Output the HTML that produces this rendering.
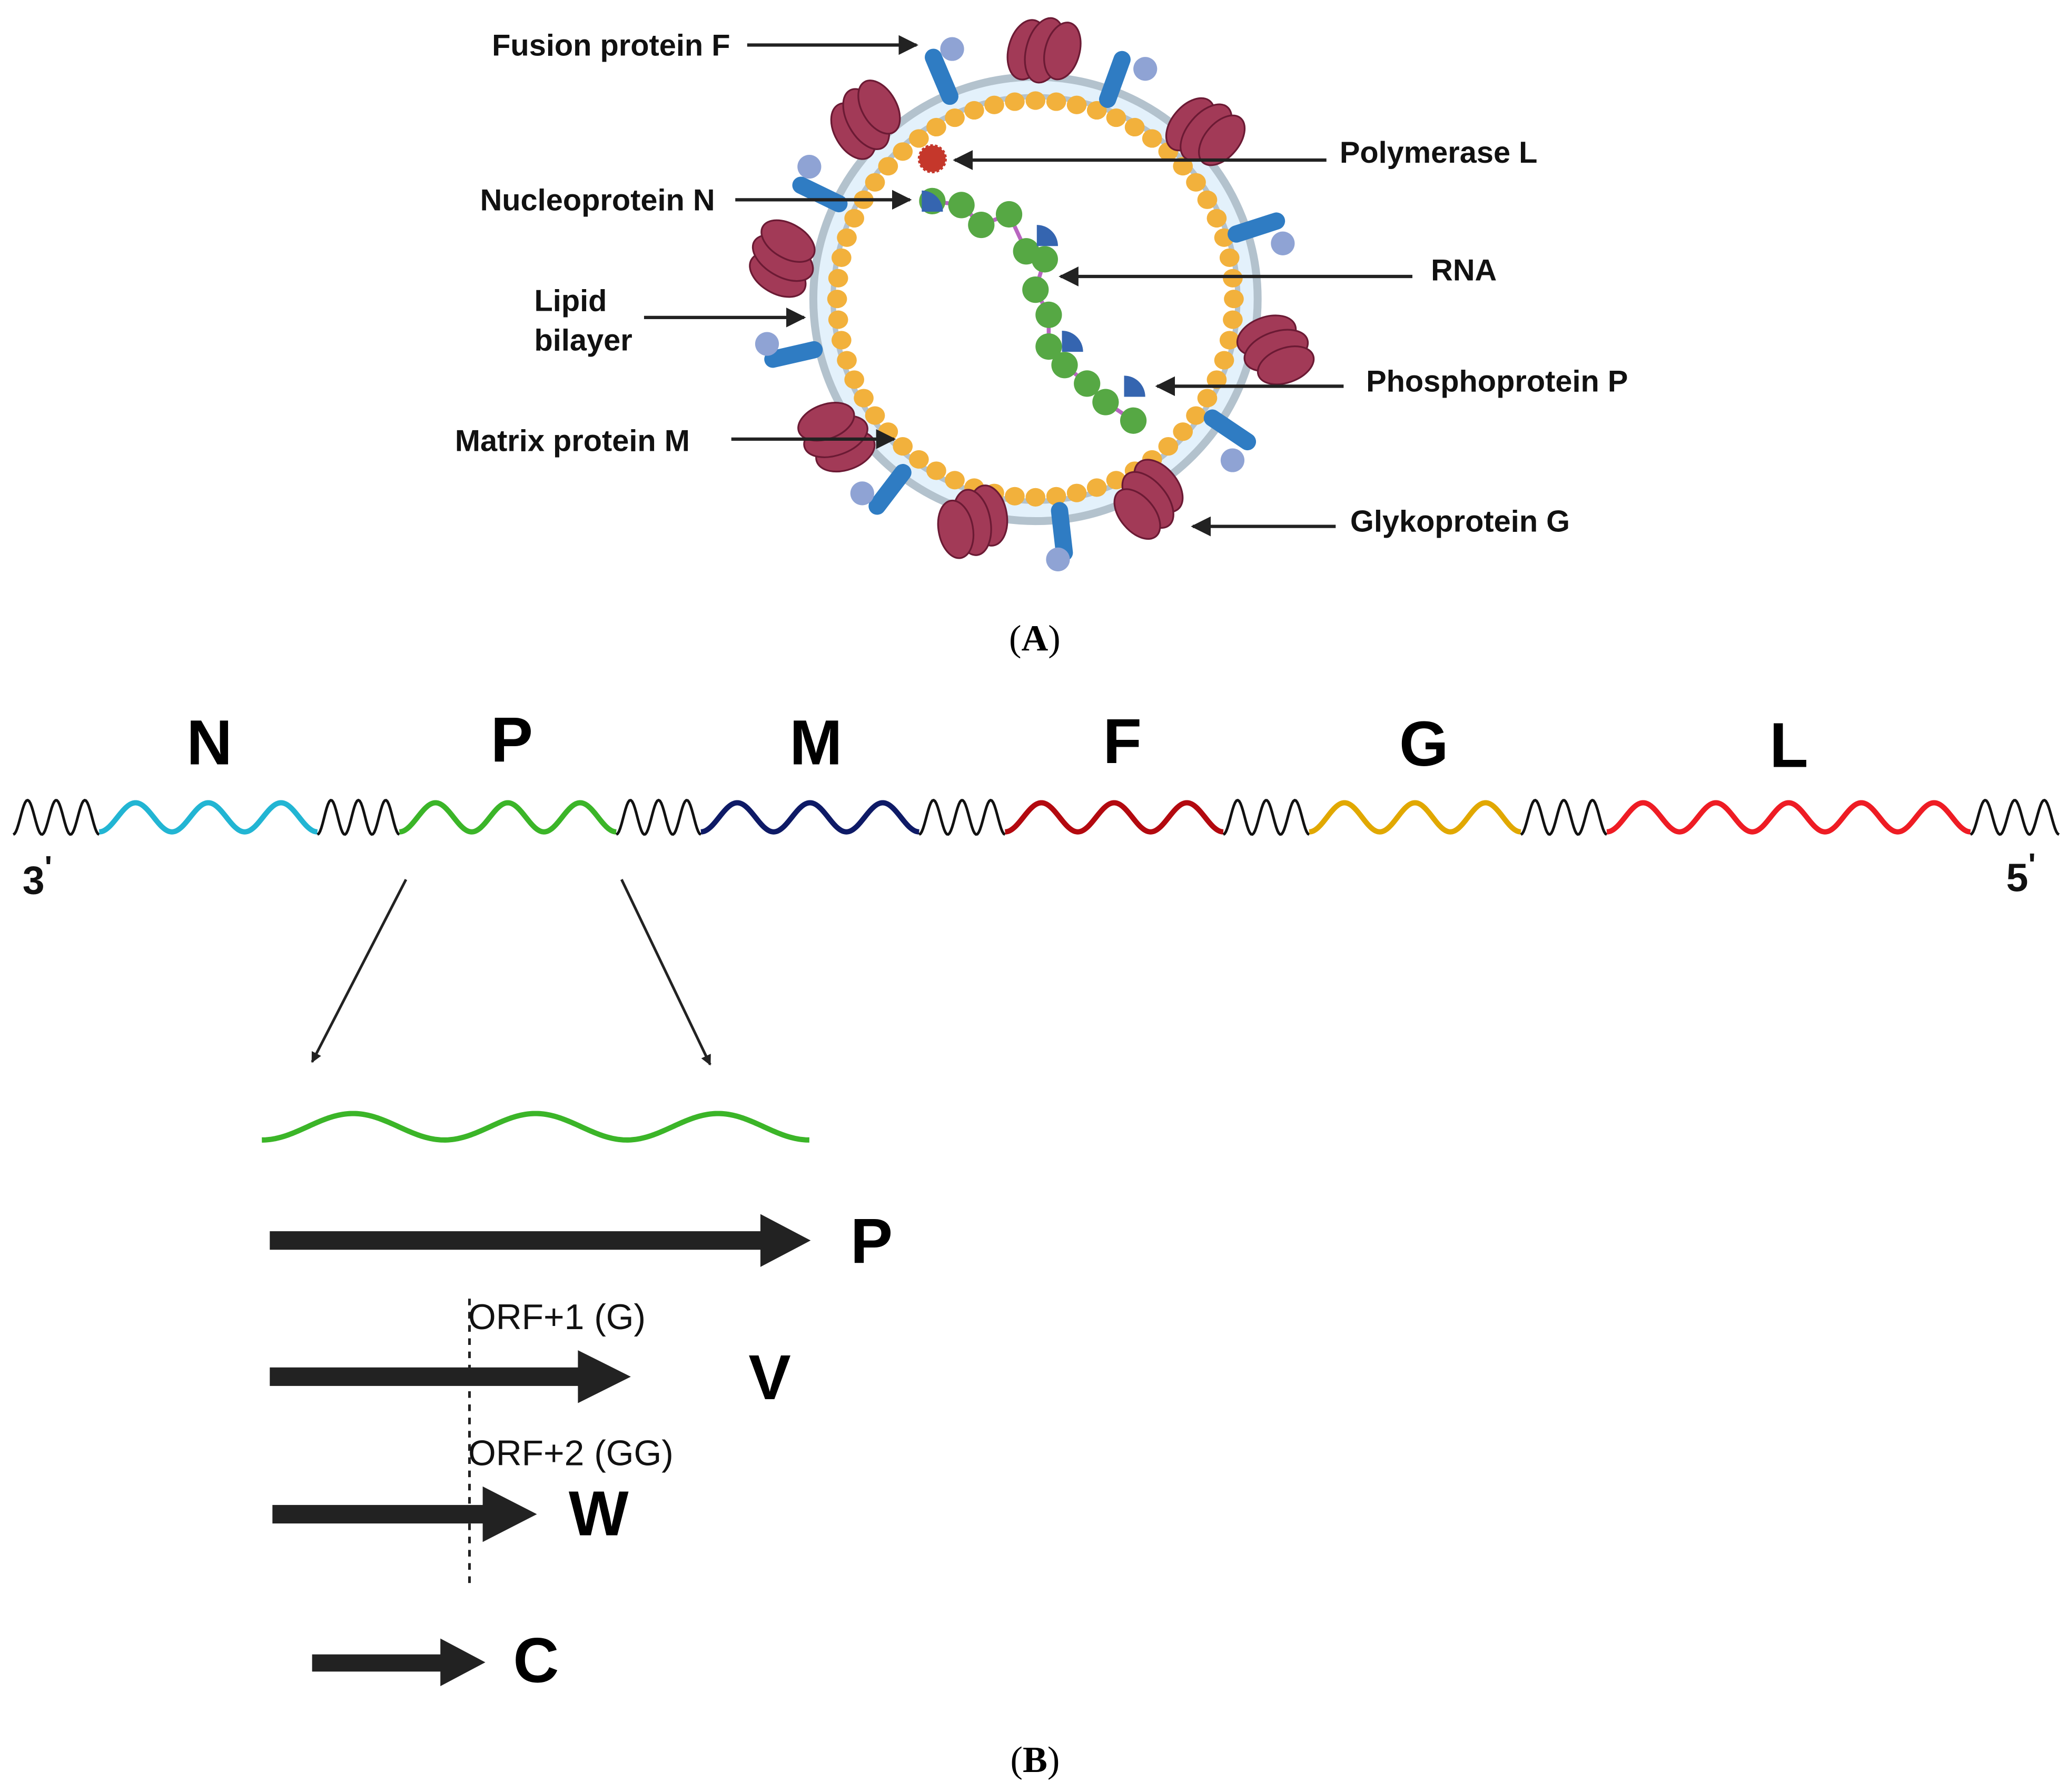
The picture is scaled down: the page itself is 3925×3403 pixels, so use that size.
<!DOCTYPE html>
<html><head><meta charset="utf-8">
<style>
html,body{margin:0;padding:0;background:#fff;}
svg{display:block;}
.lb{font-family:"Liberation Sans",Arial,sans-serif;font-weight:bold;font-size:23px;fill:#111;}
.big{font-family:"Liberation Sans",Arial,sans-serif;font-weight:bold;font-size:48px;fill:#000;}
.orf{font-family:"Liberation Sans",Arial,sans-serif;font-size:27px;fill:#111;}
.cap{font-family:"Liberation Serif","Times New Roman",serif;font-size:28px;fill:#000;}
</style></head>
<body>
<svg id="s" width="3925" height="3403" viewBox="0 0 1563 1355" xmlns="http://www.w3.org/2000/svg">
<defs>
<marker id="ah" viewBox="0 0 10 10" refX="9" refY="5" markerWidth="8" markerHeight="8" orient="auto" markerUnits="userSpaceOnUse">
<path d="M0,0 L10,5 L0,10 z" fill="#222"/></marker>
<marker id="ah2" viewBox="0 0 10 10" refX="9" refY="5" markerWidth="15" markerHeight="15" orient="auto" markerUnits="userSpaceOnUse">
<path d="M0,0 L10,5 L0,10 z" fill="#222"/></marker>
</defs>
<g id="virus"></g>
<g id="labelsA">
<text class="lb" x="372" y="42">Fusion protein F</text>
<line x1="565" y1="34" x2="693" y2="34" stroke="#222" stroke-width="2.5" marker-end="url(#ah2)"/>
<text class="lb" x="1013" y="123">Polymerase L</text>
<line x1="1003" y1="121" x2="722" y2="121" stroke="#222" stroke-width="2.5" marker-end="url(#ah2)"/>
<text class="lb" x="363" y="159">Nucleoprotein N</text>
<line x1="556" y1="151" x2="688" y2="151" stroke="#222" stroke-width="2.5" marker-end="url(#ah2)"/>
<text class="lb" x="1082" y="212">RNA</text>
<line x1="1068" y1="209" x2="802" y2="209" stroke="#222" stroke-width="2.5" marker-end="url(#ah2)"/>
<text class="lb" x="404" y="235">Lipid</text>
<text class="lb" x="404" y="265">bilayer</text>
<line x1="487" y1="240" x2="608" y2="240" stroke="#222" stroke-width="2.5" marker-end="url(#ah2)"/>
<text class="lb" x="1033" y="296">Phosphoprotein P</text>
<line x1="1016" y1="292" x2="875" y2="292" stroke="#222" stroke-width="2.5" marker-end="url(#ah2)"/>
<text class="lb" x="344" y="341">Matrix protein M</text>
<line x1="553" y1="332" x2="676" y2="332" stroke="#222" stroke-width="2.5" marker-end="url(#ah2)"/>
<text class="lb" x="1021" y="402">Glykoprotein G</text>
<line x1="1010" y1="398" x2="902" y2="398" stroke="#222" stroke-width="2.5" marker-end="url(#ah2)"/>
</g>
<text class="cap" x="763" y="492">(<tspan font-weight="bold">A</tspan>)</text>
<g id="genome"></g>
<g class="big">
<text x="141" y="578">N</text>
<text x="371" y="576">P</text>
<text x="597" y="578">M</text>
<text x="834" y="577">F</text>
<text x="1058" y="579">G</text>
<text x="1338" y="580">L</text>
</g>
<text class="lb" x="17" y="676" style="font-size:30px">3<tspan dy="-12" font-size="24">'</tspan></text>
<text class="lb" x="1517" y="674" style="font-size:30px">5<tspan dy="-12" font-size="24">'</tspan></text>
<line x1="307" y1="665" x2="236" y2="803" stroke="#222" stroke-width="2" marker-end="url(#ah)"/>
<line x1="470" y1="665" x2="537" y2="805" stroke="#222" stroke-width="2" marker-end="url(#ah)"/>
<g id="arrows" fill="#222">
<rect x="204" y="931" width="375" height="14"/><polygon points="575,918 613,938 575,958"/>
<rect x="204" y="1034" width="240" height="14"/><polygon points="437,1021 477,1041 437,1061"/>
<rect x="206" y="1138" width="165" height="14"/><polygon points="365,1124 406,1145 365,1166"/>
<rect x="236" y="1251" width="100" height="13"/><polygon points="333,1239 367,1257 333,1275"/>
</g>
<line x1="355" y1="982" x2="355" y2="1200" stroke="#222" stroke-width="2" stroke-dasharray="5,5"/>
<text class="big" x="643" y="955">P</text>
<text class="big" x="566" y="1058">V</text>
<text class="big" x="430" y="1161">W</text>
<text class="big" x="388" y="1272">C</text>
<text class="orf" x="354" y="1005">ORF+1 (G)</text>
<text class="orf" x="354" y="1108">ORF+2 (GG)</text>
<text class="cap" x="764" y="1340">(<tspan font-weight="bold">B</tspan>)</text>
</svg>
<script>
var NS="http://www.w3.org/2000/svg";
function el(p,t,a){var e=document.createElementNS(NS,t);for(var k in a)e.setAttribute(k,a[k]);p.appendChild(e);return e;}
var V=document.getElementById("virus");
var cx=783,cy=226;
el(V,"circle",{cx:cx,cy:cy,r:161,fill:"none",stroke:"#e3f1fb","stroke-width":16});
el(V,"circle",{cx:cx,cy:cy,r:168,fill:"none",stroke:"#b3c2cd","stroke-width":6});
el(V,"circle",{cx:cx,cy:cy,r:153,fill:"none",stroke:"#b3c2cd","stroke-width":4});
for(var i=0;i<60;i++){var a=i/60*2*Math.PI;el(V,"ellipse",{cx:cx+150*Math.cos(a),cy:cy+150*Math.sin(a),rx:7.5,ry:7,fill:"#f2b13c"});}
var F=[[712,58,720,37],[843,60,866,52],[620,147,612,126],[950,172,970,184],[600,268,580,260],[930,325,932,348],[673,370,652,373],[803,402,800,423]];
F.forEach(function(f){var dx=f[0]-cx,dy=f[1]-cy,d=Math.hypot(dx,dy),ux=dx/d,uy=dy/d;
el(V,"line",{x1:f[0]-ux*16,y1:f[1]-uy*16,x2:f[0]+ux*16,y2:f[1]+uy*16,stroke:"#2f7cc3","stroke-width":13,"stroke-linecap":"round"});
el(V,"circle",{cx:f[2],cy:f[3],r:9,fill:"#8fa3d4"});});
var G=[[790,38,15],[655,90,-30],[912,100,40],[592,195,-60],[965,265,70],[632,330,-110],[735,395,170],[868,378,140]];
G.forEach(function(g){var gg=el(V,"g",{transform:"translate("+g[0]+","+g[1]+") rotate("+g[2]+")"});
[[-13,3,14,23],[0,0,14,25],[13,-3,13,22]].forEach(function(c){el(gg,"ellipse",{cx:c[0],cy:c[1],rx:c[2],ry:c[3],fill:"#a23a57",stroke:"#6b1a34","stroke-width":1.3});});});
var R=[[705,152],[727,155],[742,170],[763,162],[776,190],[790,196],[783,219],[793,238],[793,262],[805,276],[822,290],[836,304],[857,318]];
var pts=R.map(function(p){return p.join(",")}).join(" ");
el(V,"polyline",{points:pts,fill:"none",stroke:"#b865c0","stroke-width":3});
R.forEach(function(p){el(V,"circle",{cx:p[0],cy:p[1],r:10,fill:"#56a844"});});
[[697,144],[784,170],[803,250],[850,284]].forEach(function(q){el(V,"path",{d:"M"+q[0]+","+(q[1]+16)+" v-16 a16,16 0 0 1 16,16 z",fill:"#3565b0"});});
el(V,"circle",{cx:705,cy:120,r:10,fill:"#c5372b",stroke:"#c5372b","stroke-width":2,"stroke-dasharray":"2,1.5"});
var Gm=document.getElementById("genome");
function wave(x0,x1,y,amp,per,col,w){var d="";for(var x=x0;x<=x1+0.01;x+=1){d+=(d?" L":"M")+x.toFixed(1)+","+(y+amp*Math.cos((x-x0)/per*2*Math.PI)).toFixed(2);}
el(Gm,"path",{d:d,fill:"none",stroke:col,"stroke-width":w,"stroke-linejoin":"round"});}
var segs=[[10,75,"#111",0],[75,240,"#22b5d3",1],[240,302,"#111",0],[302,466,"#3bb528",1],[466,530,"#111",0],[530,695,"#0e1a66",1],[695,760,"#111",0],[760,925,"#b3090f",1],[925,990,"#111",0],[990,1150,"#e1a800",1],[1150,1215,"#111",0],[1215,1490,"#ee1c24",1],[1490,1557,"#111",0]];
segs.forEach(function(s){var n=s[3]?(s[0]==1215?5:3):3;var per=(s[1]-s[0])/n;wave(s[0],s[1],618,s[3]?11:13,per,s[2],s[3]?4:2);});
wave(198,612,852,10,138,"#3bb528",4);
</script>
</body></html>
